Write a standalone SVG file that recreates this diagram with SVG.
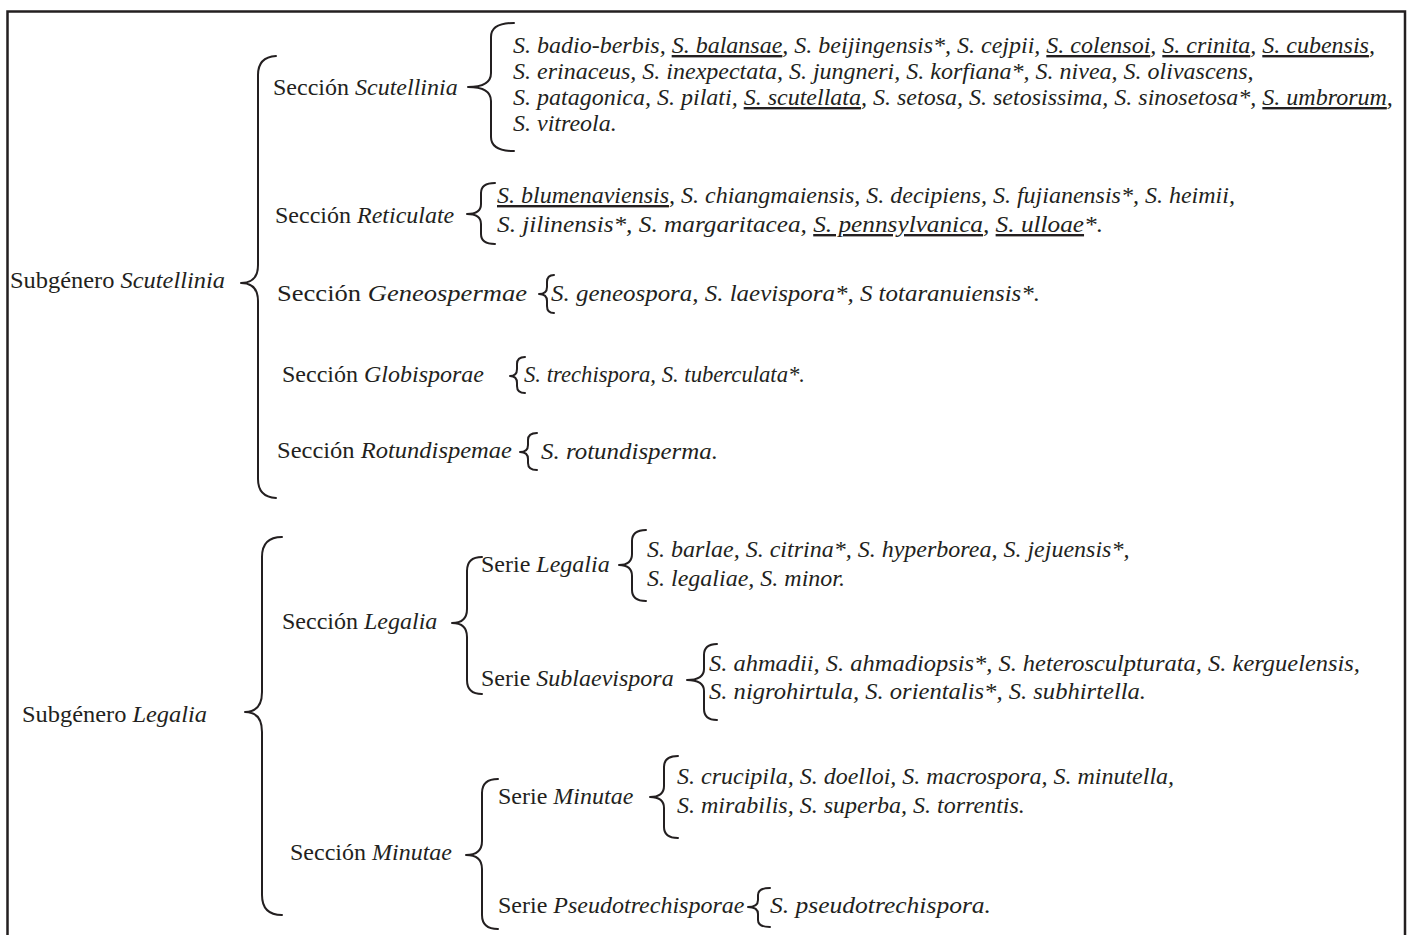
<svg xmlns="http://www.w3.org/2000/svg" width="1410" height="935" viewBox="0 0 1410 935">
<style>
.t{font-family:"Liberation Serif","Times New Roman",serif;font-size:24px;fill:#231f20}
.i{font-style:italic}
.u{text-decoration:underline}
.b{fill:none;stroke:#231f20;stroke-width:2;stroke-linecap:round;stroke-linejoin:round}
.f{fill:none;stroke:#231f20;stroke-width:2.5}
</style>
<rect width="1410" height="935" fill="#ffffff"/>
<path class="f" d="M7.5,935 V11.5 H1405 V935"/>
<g id="connectors">
<path class="b" d="M276,56 Q258,57 258,75 L258,265 Q258,283 241,283 Q258,283 258,301 L258,479 Q258,497 276,498"/>
<path class="b" d="M514,23 Q491,23 491,37 L491,73 Q491,87 468,87 Q491,87 491,101 L491,137 Q491,151 514,151"/>
<path class="b" d="M495,183 Q481,183 481,193 L481,204 Q481,214 467,214 Q481,214 481,224 L481,234 Q481,244 495,244"/>
<path class="b" d="M554,275 Q547,275 547,282 L547,287 Q547,294 539,294 Q547,294 547,301 L547,306 Q547,313 554,313"/>
<path class="b" d="M525,357 Q517,357 517,364 L517,369 Q517,376 510,376 Q517,376 517,383 L517,386 Q517,393 525,393"/>
<path class="b" d="M537,433 Q528,433 528,440 L528,445 Q528,452 520,452 Q528,452 528,459 L528,463 Q528,470 537,470"/>
<path class="b" d="M282,537 Q262,537 262,557 L262,692 Q262,712 245,712 Q262,712 262,732 L262,895 Q262,915 282,915"/>
<path class="b" d="M482,557 Q467,557 467,571 L467,609 Q467,623 452,623 Q467,623 467,637 L467,680 Q467,694 482,694"/>
<path class="b" d="M646,530 Q632,530 632,541 L632,554 Q632,565 619,565 Q632,565 632,576 L632,590 Q632,601 646,601"/>
<path class="b" d="M717,644 Q704,644 704,655 L704,669 Q704,680 687,680 Q704,680 704,691 L704,709 Q704,720 717,720"/>
<path class="b" d="M498,779 Q482,779 482,793 L482,841 Q482,855 466,855 Q482,855 482,869 L482,915 Q482,929 498,929"/>
<path class="b" d="M678,756 Q664,756 664,767 L664,786 Q664,797 650,797 Q664,797 664,808 L664,827 Q664,838 678,838"/>
<path class="b" d="M770,888 Q758,888 758,895 L758,900 Q758,907 748,907 Q758,907 758,914 L758,920 Q758,927 770,927"/>
</g>
<g id="subgenero-scutellinia"><text class="t" x="10" y="288" textLength="215" lengthAdjust="spacingAndGlyphs">Subgénero <tspan class="i">Scutellinia</tspan></text></g>
<g id="seccion-scutellinia"><text class="t" x="273" y="95">Sección <tspan class="i">Scutellinia</tspan></text></g>
<g id="species-scutellinia" class="t i">
<text x="513" y="53">S. badio-berbis, <tspan class="u">S. balansae</tspan>, S. beijingensis*, S. cejpii, <tspan class="u">S. colensoi</tspan>, <tspan class="u">S. crinita</tspan>, <tspan class="u">S. cubensis</tspan>,</text>
<text x="513" y="79">S. erinaceus, S. inexpectata, S. jungneri, S. korfiana*, S. nivea, S. olivascens,</text>
<text x="513" y="105">S. patagonica, S. pilati, <tspan class="u">S. scutellata</tspan>, S. setosa, S. setosissima, S. sinosetosa*, <tspan class="u">S. umbrorum</tspan>,</text>
<text x="513" y="131">S. vitreola.</text>
</g>
<g id="seccion-reticulate"><text class="t" x="275" y="223">Sección <tspan class="i">Reticulate</tspan></text></g>
<g id="species-reticulate" class="t i">
<text x="497" y="203"><tspan class="u">S. blumenaviensis</tspan>, S. chiangmaiensis, S. decipiens, S. fujianensis*, S. heimii,</text>
<text x="497" y="232" textLength="606" lengthAdjust="spacingAndGlyphs">S. jilinensis*, S. margaritacea, <tspan class="u">S. pennsylvanica</tspan>, <tspan class="u">S. ulloae</tspan>*.</text>
</g>
<g id="seccion-geneospermae"><text class="t" x="277" y="301" textLength="250" lengthAdjust="spacingAndGlyphs">Sección <tspan class="i">Geneospermae</tspan></text></g>
<g id="species-geneospermae"><text class="t i" x="551" y="301" textLength="489" lengthAdjust="spacingAndGlyphs">S. geneospora, S. laevispora*, S totaranuiensis*.</text></g>
<g id="seccion-globisporae"><text class="t" x="282" y="382">Sección <tspan class="i">Globisporae</tspan></text></g>
<g id="species-globisporae"><text class="t i" x="524" y="382" textLength="281" lengthAdjust="spacingAndGlyphs">S. trechispora, S. tuberculata*.</text></g>
<g id="seccion-rotundispemae"><text class="t" x="277" y="458" textLength="235" lengthAdjust="spacingAndGlyphs">Sección <tspan class="i">Rotundispemae</tspan></text></g>
<g id="species-rotundispemae"><text class="t i" x="541" y="459" textLength="177" lengthAdjust="spacingAndGlyphs">S. rotundisperma.</text></g>
<g id="subgenero-legalia"><text class="t" x="22" y="722" textLength="185" lengthAdjust="spacingAndGlyphs">Subgénero <tspan class="i">Legalia</tspan></text></g>
<g id="seccion-legalia"><text class="t" x="282" y="629">Sección <tspan class="i">Legalia</tspan></text></g>
<g id="serie-legalia"><text class="t" x="481" y="572">Serie <tspan class="i">Legalia</tspan></text></g>
<g id="species-legalia" class="t i">
<text x="647" y="557">S. barlae, S. citrina*, S. hyperborea, S. jejuensis*,</text>
<text x="647" y="586">S. legaliae, S. minor.</text>
</g>
<g id="serie-sublaevispora"><text class="t" x="481" y="686">Serie <tspan class="i">Sublaevispora</tspan></text></g>
<g id="species-sublaevispora" class="t i">
<text x="709" y="671" textLength="651" lengthAdjust="spacingAndGlyphs">S. ahmadii, S. ahmadiopsis*, S. heterosculpturata, S. kerguelensis,</text>
<text x="709" y="699" textLength="437" lengthAdjust="spacingAndGlyphs">S. nigrohirtula, S. orientalis*, S. subhirtella.</text>
</g>
<g id="seccion-minutae"><text class="t" x="290" y="860">Sección <tspan class="i">Minutae</tspan></text></g>
<g id="serie-minutae"><text class="t" x="498" y="804">Serie <tspan class="i">Minutae</tspan></text></g>
<g id="species-minutae" class="t i">
<text x="677" y="784">S. crucipila, S. doelloi, S. macrospora, S. minutella,</text>
<text x="677" y="813">S. mirabilis, S. superba, S. torrentis.</text>
</g>
<g id="serie-pseudotrechisporae"><text class="t" x="498" y="913">Serie <tspan class="i">Pseudotrechisporae</tspan></text></g>
<g id="species-pseudotrechisporae"><text class="t i" x="770" y="913" textLength="221" lengthAdjust="spacingAndGlyphs">S. pseudotrechispora.</text></g>
</svg>
